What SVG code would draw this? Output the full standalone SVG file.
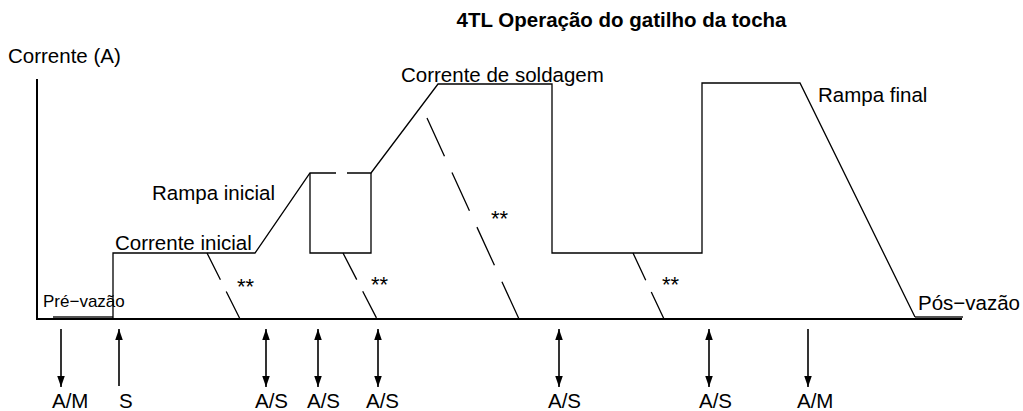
<svg xmlns="http://www.w3.org/2000/svg" width="1023" height="411" viewBox="0 0 1023 411">
<style>
text{font-family:"Liberation Sans",Arial,sans-serif;font-size:20.5px;fill:#000}
.title{font-weight:bold}
.small{font-size:17px}
.ast{font-size:22px}
.axis{stroke:#000;stroke-width:2;fill:none}
.wave{stroke:#000;stroke-width:1.3;fill:none}
.dash1{stroke:#000;stroke-width:1.3;fill:none;stroke-dasharray:30 13}
.dash2{stroke:#000;stroke-width:1.3;fill:none;stroke-dasharray:42 18}
.gas{stroke:#555;stroke-width:2;fill:none}
.arr{stroke:#000;stroke-width:1.6;fill:none}
</style>
<defs>
<marker id="ah" markerUnits="userSpaceOnUse" markerWidth="12" markerHeight="8" refX="11" refY="3.75" orient="auto-start-reverse">
<path d="M0,0 L11,3.75 L0,7.5 z" fill="#000"/>
</marker>
</defs>
<text class="title" x="621.5" y="27" text-anchor="middle">4TL Operação do gatilho da tocha</text>
<g id="axes">
<path class="axis" d="M37,79 V319 H962"/>
<text x="8" y="63">Corrente (A)</text>
</g>
<g id="prevazao">
<line class="gas" x1="53" y1="317" x2="113" y2="317"/>
<text class="small" x="43" y="307">Pré−vazão</text>
</g>
<g id="posvazao">
<line class="gas" x1="915" y1="317" x2="963" y2="317"/>
<text x="918" y="310">Pós−vazão</text>
</g>
<g id="waveform">
<path class="wave" d="M113,319 V253 H255 L310,173 H336"/>
<path class="wave" d="M347,173 H371 L438,84 H552 V253 H702 V83 H800 L915,317"/>
<path class="wave" d="M310,173 V253 H371 V173"/>
</g>
<g id="dashed">
<line class="dash1" x1="207" y1="253" x2="240" y2="319"/>
<line class="dash1" x1="343" y1="253" x2="377" y2="319"/>
<line class="dash2" x1="427" y1="118" x2="519" y2="319"/>
<line class="dash1" x1="633" y1="253" x2="664" y2="319"/>
<text class="ast" x="237" y="294">**</text>
<text class="ast" x="371" y="292">**</text>
<text class="ast" x="491" y="226">**</text>
<text class="ast" x="662" y="292">**</text>
</g>
<g id="labels">
<text x="152" y="200">Rampa inicial</text>
<text x="115" y="250">Corrente inicial</text>
<text x="401" y="82">Corrente de soldagem</text>
<text x="818" y="102">Rampa final</text>
</g>
<g id="connectors">
<line class="arr" x1="61" y1="329" x2="61" y2="387" marker-end="url(#ah)"/>
<line class="arr" x1="119" y1="386" x2="119" y2="329" marker-end="url(#ah)"/>
<line class="arr" x1="266" y1="329" x2="266" y2="387" marker-start="url(#ah)" marker-end="url(#ah)"/>
<line class="arr" x1="318" y1="329" x2="318" y2="387" marker-start="url(#ah)" marker-end="url(#ah)"/>
<line class="arr" x1="378" y1="329" x2="378" y2="387" marker-start="url(#ah)" marker-end="url(#ah)"/>
<line class="arr" x1="559" y1="329" x2="559" y2="387" marker-start="url(#ah)" marker-end="url(#ah)"/>
<line class="arr" x1="709" y1="329" x2="709" y2="387" marker-start="url(#ah)" marker-end="url(#ah)"/>
<line class="arr" x1="808" y1="329" x2="808" y2="387" marker-end="url(#ah)"/>
</g>
<g id="triggers">
<text x="52" y="408">A/M</text>
<text x="119" y="408">S</text>
<text x="255" y="408">A/S</text>
<text x="307" y="408">A/S</text>
<text x="366" y="408">A/S</text>
<text x="548" y="408">A/S</text>
<text x="699" y="408">A/S</text>
<text x="797" y="408">A/M</text>
</g>
</svg>
